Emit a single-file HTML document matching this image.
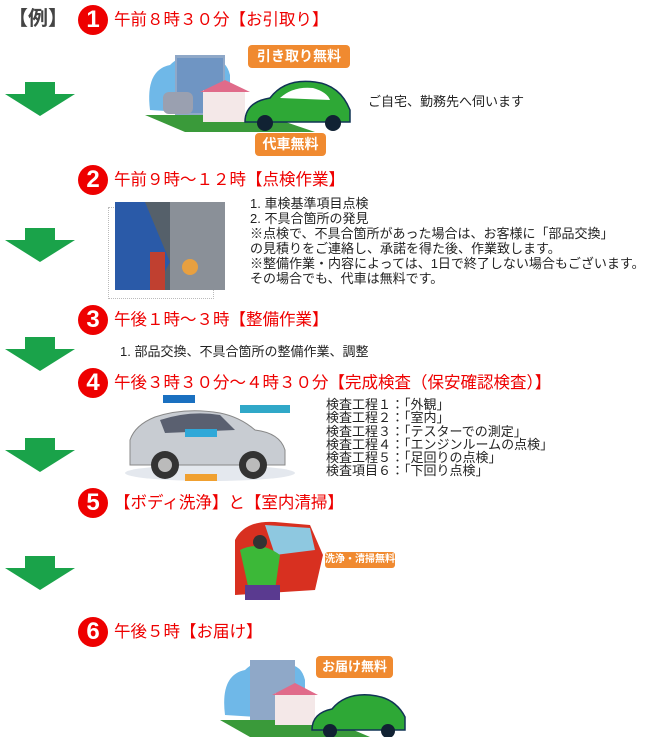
<!DOCTYPE html>
<html><head><meta charset="utf-8"><style>
body{margin:0;width:656px;height:737px;background:#fff;position:relative;overflow:hidden;font-family:"Liberation Sans","Noto Sans CJK JP",sans-serif}
.a{position:absolute}
.h{position:absolute;left:114px;color:#e00;font-size:16.5px;line-height:20px;white-space:nowrap}
.c{position:absolute;left:78px;width:30px;height:30px;border-radius:50%;background:#e00;color:#fff;font-weight:bold;font-size:24px;line-height:30px;text-align:center;font-family:"Liberation Sans",sans-serif}
.ar{position:absolute;left:5px;width:70px;height:34px}
.t{position:absolute;font-size:13px;line-height:15px;color:#222;white-space:nowrap}
.b{position:absolute;background:#f08a30;color:#fff;font-weight:bold;border-radius:4px;text-align:center;white-space:nowrap}
</style></head><body>
<div class="a" style="left:8px;top:6px;font-size:20px;font-weight:bold;color:#444;line-height:26px">【例】</div>
<div class="c" style="top:5px">1</div><div class="h" style="top:10px">午前８時３０分【お引取り】</div>
<svg class="ar" style="top:82px" viewBox="0 0 70 34"><polygon points="20,0 50,0 50,12 70,12 35,34 0,12 20,12" fill="#1aa34a"/></svg>
<svg class="a" style="left:145px;top:50px" width="210" height="82" viewBox="0 0 210 82">
<path d="M5,60 Q0,20 25,15 Q40,0 60,12 Q80,5 85,25 L85,65 Z" fill="#6fb8e8"/>
<rect x="30" y="5" width="50" height="60" fill="#8fa8c8"/><rect x="32" y="8" width="46" height="55" fill="#5a88c0" opacity=".6"/>
<polygon points="0,65 120,65 170,82 40,82" fill="#3a9a3a"/>
<rect x="18" y="42" width="30" height="22" rx="6" fill="#9aa0b0"/>
<rect x="58" y="40" width="42" height="32" fill="#f4e8e8"/><polygon points="55,42 80,30 105,42" fill="#e06b8a"/>
<path d="M100,72 Q100,52 125,48 Q140,28 170,32 Q195,35 205,60 L205,72 Z" fill="#2ea836" stroke="#135" stroke-width="1.5"/>
<path d="M135,48 Q148,36 168,38 Q182,42 185,50 Z" fill="#fff"/>
<circle cx="120" cy="73" r="8" fill="#123"/><circle cx="188" cy="73" r="8" fill="#123"/>
</svg>
<div class="b" style="left:248px;top:45px;width:102px;height:23px;line-height:23px;font-size:14px">引き取り無料</div>
<div class="b" style="left:255px;top:133px;width:71px;height:23px;line-height:23px;font-size:14px">代車無料</div>
<div class="t" style="left:368px;top:94px">ご自宅、勤務先へ伺います</div>

<div class="c" style="top:165px">2</div><div class="h" style="top:170px">午前９時～１２時【点検作業】</div>
<div class="a" style="left:108px;top:207px;width:104px;height:90px;border:1px dotted #bbb"></div>
<svg class="a" style="left:115px;top:202px" width="110" height="88" viewBox="0 0 110 88"><rect width="110" height="88" fill="#55606a"/><rect x="55" y="0" width="55" height="88" fill="#8a9098"/><path d="M0,0 L30,0 L55,60 L40,88 L0,88Z" fill="#2a5aa8"/><circle cx="75" cy="65" r="8" fill="#e8a040"/><rect x="35" y="50" width="15" height="38" fill="#c04030"/></svg>
<div class="t" style="left:250px;top:196px">1. 車検基準項目点検<br>2. 不具合箇所の発見<br>※点検で、不具合箇所があった場合は、お客様に「部品交換」<br>の見積りをご連絡し、承諾を得た後、作業致します。<br>※整備作業・内容によっては、1日で終了しない場合もございます。<br>その場合でも、代車は無料です。</div>
<svg class="ar" style="top:228px" viewBox="0 0 70 34"><polygon points="20,0 50,0 50,12 70,12 35,34 0,12 20,12" fill="#1aa34a"/></svg>

<div class="c" style="top:305px">3</div><div class="h" style="top:310px">午後１時～３時【整備作業】</div>
<div class="t" style="left:120px;top:344px">1. 部品交換、不具合箇所の整備作業、調整</div>
<svg class="ar" style="top:337px" viewBox="0 0 70 34"><polygon points="20,0 50,0 50,12 70,12 35,34 0,12 20,12" fill="#1aa34a"/></svg>

<div class="c" style="top:368px">4</div><div class="h" style="top:373px">午後３時３０分～４時３０分【完成検査（保安確認検査）】</div>
<svg class="a" style="left:125px;top:395px" width="175" height="88" viewBox="0 0 175 88">
<ellipse cx="85" cy="78" rx="85" ry="8" fill="#e4e8ee"/>
<path d="M5,70 L5,45 Q10,30 30,22 Q60,12 95,18 Q115,22 130,35 Q155,38 160,55 L160,70 Z" fill="#c8ccd2" stroke="#888"/>
<path d="M35,25 Q65,15 95,20 L110,35 L40,38 Z" fill="#5a6070"/>
<circle cx="40" cy="70" r="14" fill="#333"/><circle cx="40" cy="70" r="7" fill="#bbb"/>
<circle cx="128" cy="70" r="14" fill="#333"/><circle cx="128" cy="70" r="7" fill="#bbb"/>
<rect x="38" y="0" width="32" height="8" fill="#1a70c0"/><rect x="115" y="10" width="50" height="8" fill="#30a8c8"/><rect x="60" y="34" width="32" height="8" fill="#30a8d8"/><rect x="60" y="79" width="32" height="7" fill="#f0a030"/>
</svg>
<div class="t" style="left:326px;top:398px;font-size:13px;line-height:13.3px">検査工程１：「外観」<br>検査工程２：「室内」<br>検査工程３：「テスターでの測定」<br>検査工程４：「エンジンルームの点検」<br>検査工程５：「足回りの点検」<br>検査項目６：「下回り点検」</div>
<svg class="ar" style="top:438px" viewBox="0 0 70 34"><polygon points="20,0 50,0 50,12 70,12 35,34 0,12 20,12" fill="#1aa34a"/></svg>

<div class="c" style="top:488px">5</div><div class="h" style="top:493px">【ボディ洗浄】と【室内清掃】</div>
<svg class="a" style="left:225px;top:520px" width="100" height="82" viewBox="0 0 100 82">
<path d="M10,20 Q20,0 50,2 L85,5 L98,35 L90,70 L10,75 Z" fill="#d83020"/><path d="M40,5 L85,8 L90,30 L50,35 Z" fill="#8ec8e0"/>
<path d="M15,30 Q35,20 55,35 L50,70 L25,75 Z" fill="#3cb838"/><circle cx="35" cy="22" r="7" fill="#333"/>
<rect x="20" y="65" width="35" height="15" fill="#5a3a90"/></svg>
<div class="b" style="left:325px;top:552px;width:70px;height:16px;line-height:16px;font-size:10px;border-radius:3px">洗浄・清掃無料</div>
<svg class="ar" style="top:556px" viewBox="0 0 70 34"><polygon points="20,0 50,0 50,12 70,12 35,34 0,12 20,12" fill="#1aa34a"/></svg>

<div class="c" style="top:617px">6</div><div class="h" style="top:622px">午後５時【お届け】</div>
<svg class="a" style="left:220px;top:655px" width="190" height="82" viewBox="0 0 190 82">
<path d="M5,60 Q0,20 25,15 Q40,0 60,12 Q80,5 85,25 L85,65 Z" fill="#6fb8e8"/>
<rect x="30" y="5" width="45" height="60" fill="#8fa8c8"/>
<polygon points="0,65 110,65 150,82 30,82" fill="#3a9a3a"/>
<rect x="55" y="38" width="40" height="32" fill="#f4e8e8"/><polygon points="52,40 75,28 98,40" fill="#e06b8a"/>
<path d="M92,75 Q92,58 112,54 Q125,38 150,40 Q175,42 185,62 L185,75 Z" fill="#2ea836" stroke="#135" stroke-width="1.5"/>
<circle cx="110" cy="76" r="7" fill="#123"/><circle cx="168" cy="76" r="7" fill="#123"/></svg>
<div class="b" style="left:316px;top:656px;width:77px;height:22px;line-height:22px;font-size:13px">お届け無料</div>
</body></html>
